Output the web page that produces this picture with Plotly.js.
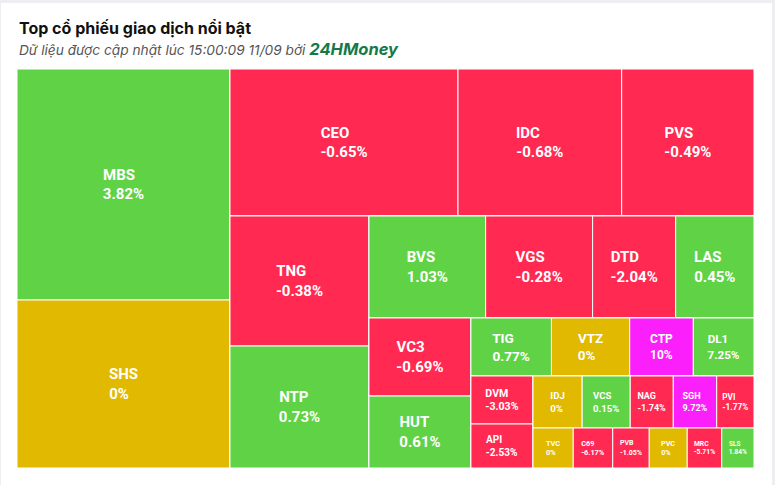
<!DOCTYPE html>
<html>
<head>
<meta charset="utf-8">
<script src="https://cdn.plot.ly/plotly-3.0.1.min.js"></script>
<style>
  html, body { margin: 0; padding: 0; background: #eceef1; width: 775px; height: 485px; overflow: hidden; }
  #chart { position: absolute; left: 1px; top: 3px; width: 771px; height: 482px; background: #fff; }
</style>
</head>
<body>
<div id="chart"></div>
<script>
// ---- data (values are relative cell sizes) ----
const tickers = ["MBS","SHS","CEO","IDC","PVS","TNG","NTP","BVS","VGS","DTD","LAS","VC3","HUT",
                 "TIG","VTZ","CTP","DL1","DVM","API","IDJ","VCS","NAG","SGH","PVI",
                 "TVC","C69","PVB","PVC","MRC","SLS"];
const values  = [492.0,357.8,335.2,240.6,194.5,180.7,169.6,119.0,109.1,84.7,79.9,79.6,73.4,
                 46.7,45.4,36.9,35.2,29.8,27.3,25.6,25.0,22.4,22.6,19.4,
                 16.1,15.8,14.6,15.2,13.8,12.9];
const changes = [3.82,0,-0.65,-0.68,-0.49,-0.38,0.73,1.03,-0.28,-2.04,0.45,-0.69,0.61,
                 0.77,0,10,7.25,-3.03,-2.53,0,0.15,-1.74,9.72,-1.77,
                 0,-6.17,-1.05,0,-5.71,1.84];
const leafGroups = ["A","A","B1","B1","B1","C","C","D1","D1","D1","D1","E","E",
                    "F1","F1","F1","F1","H","H","I1","I1","I1","I1","I1",
                    "I2","I2","I2","I2","I2","I2"];
// grouping that reproduces the arrangement of the cells
const groupIds     = ["ALL","A","B","B1","B2","C","D","D1","D2","E","F","F1","F2","H","I","I1","I2"];
const groupParents = ["",  "ALL","ALL","B","B","B2","B2","D","D","D2","D2","F","F","F2","F2","I","I"];

// ---- styling helpers ----
const GREEN = "#60d246", RED = "#ff2952", YELLOW = "#e0b900", PURPLE = "#fb20fb";
const FONT = "Roboto";
function colorFor(p) {
  if (p >= 9.5) return PURPLE;     // ceiling price (HNX +10%)
  if (p > 0) return GREEN;
  if (p < 0) return RED;
  return YELLOW;
}
function fmt(p) { return (p === 0 ? "0" : String(p)) + "%"; }
function fontSizeFor(v) { return Math.max(5, Math.min(15, 2.2 * Math.sqrt(v) - 1.4)); }

const cv = document.createElement("canvas").getContext("2d");
function measure(s, size) { cv.font = "bold " + size + "px " + FONT; return cv.measureText(s).width; }
// pad the shorter line with spaces so both lines start at the same x (left-aligned block)
function padTo(s, target, size) {
  const NB = "\u00a0", HS = "\u200a";
  let out = "";
  const nbw = measure(NB, size), hsw = measure(HS, size);
  let diff = target - measure(s, size);
  if (nbw > 0) { const n = Math.floor(diff / nbw); if (n > 0) { out += NB.repeat(n); diff -= n * nbw; } }
  if (hsw > 0) { const m = Math.round(diff / hsw); if (m > 0) out += HS.repeat(m); }
  return out;
}

const ids = [], labels = [], parents = [], vals = [], colors = [], custom = [], tmpl = [], sizes = [];
groupIds.forEach((g, i) => {
  ids.push("g_" + g); labels.push(""); parents.push(groupParents[i] ? "g_" + groupParents[i] : "");
  vals.push(0); colors.push("#ffffff"); custom.push(""); tmpl.push(""); sizes.push(10);
});
tickers.forEach((t, i) => {
  const sz = fontSizeFor(values[i]);
  const pct = fmt(changes[i]);
  const wl = measure(t, sz), wp = measure(pct, sz);
  const w = Math.max(wl, wp);
  ids.push(t); labels.push(t); parents.push("g_" + leafGroups[i]);
  vals.push(values[i]); colors.push(colorFor(changes[i])); custom.push(pct);
  sizes.push(sz);
  tmpl.push("<b>%{label}" + padTo(t, w, sz) + "</b><br><b>%{customdata}" + padTo(pct, w, sz) + "</b>");
});

const trace = {
  type: "treemap",
  ids: ids, labels: labels, parents: parents, values: vals,
  branchvalues: "remainder",
  sort: false,
  customdata: custom,
  texttemplate: tmpl,
  textposition: "middle center",
  textfont: { family: FONT + ", Arial, sans-serif", size: sizes, color: "#ffffff" },
  hoverinfo: "none",
  marker: { colors: colors, line: { color: "#ffffff", width: 1 }, pad: { t: 0, l: 0, r: 0, b: 0 }, depthfade: false },
  leaf: { opacity: 1 },
  tiling: { packing: "slice-dice", pad: 0 },
  pathbar: { visible: false },
  root: { color: "#ffffff" }
};

const layout = {
  width: 771, height: 482,
  margin: { l: 16, r: 18, t: 66, b: 17 },
  paper_bgcolor: "#ffffff",
  showlegend: false,
  annotations: [
    { xref: "paper", yref: "paper", x: 0, y: 1 + (66 - 24.5) / 399, xanchor: "left", yanchor: "middle",
      showarrow: false, align: "left",
      text: "<b>Top cổ phiếu giao dịch nổi bật</b>",
      font: { family: "Inter, Roboto, Arial, sans-serif", size: 16, color: "#111111" } },
    { xref: "paper", yref: "paper", x: 0, y: 1 + (66 - 45.5) / 399, xanchor: "left", yanchor: "middle",
      showarrow: false, align: "left",
      text: "<i>Dữ liệu được cập nhật lúc 15:00:09 11/09 bởi </i><span style=\"font-size:16.5px;color:#167a48\"><b><i>24HMoney</i></b></span>",
      font: { family: "Inter, Roboto, Arial, sans-serif", size: 13.7, color: "#555555" } }
  ]
};

Plotly.newPlot("chart", [trace], layout, { displayModeBar: false, staticPlot: true });
</script>
</body>
</html>
